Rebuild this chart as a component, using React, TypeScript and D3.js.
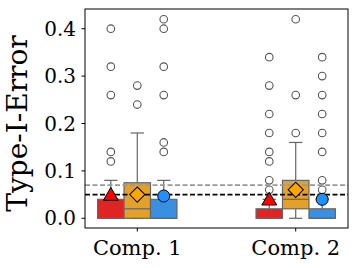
import React from 'react';
import * as d3 from 'd3';

const groups = ['Comp. 1', 'Comp. 2'];
const yTicks = [0.0, 0.1, 0.2, 0.3, 0.4];

// per series: one entry per group
const redStats = [
  { lo: 0, q1: 0, med: 0, q3: 0.04, hi: 0.08, mean: 0.045 },
  { lo: 0, q1: 0, med: 0, q3: 0.02, hi: 0.04, mean: 0.035 },
];
const redOutliers = [
  [0.12, 0.14, 0.26, 0.32, 0.4],
  [0.06, 0.08, 0.12, 0.14, 0.18, 0.22, 0.28, 0.34],
];
const orangeStats = [
  { lo: 0, q1: 0, med: 0.02, q3: 0.075, hi: 0.18, mean: 0.05 },
  { lo: 0, q1: 0.02, med: 0.04, q3: 0.08, hi: 0.16, mean: 0.06 },
];
const orangeOutliers = [
  [0.24, 0.28],
  [0.18, 0.26, 0.42],
];
const blueStats = [
  { lo: 0, q1: 0, med: 0, q3: 0.04, hi: 0.08, mean: 0.047 },
  { lo: 0, q1: 0, med: 0, q3: 0.02, hi: 0.04, mean: 0.04 },
];
const blueOutliers = [
  [0.14, 0.16, 0.26, 0.32, 0.4, 0.42],
  [0.06, 0.08, 0.14, 0.18, 0.22, 0.26, 0.3, 0.34],
];
const refLines = [
  { value: 0.07, color: '#999999' },
  { value: 0.05, color: '#000000' },
];

const series = [
  { stats: redStats, outliers: redOutliers, fill: '#e02424', marker: 'triangle', mFill: '#ff0000', offset: -1 },
  { stats: orangeStats, outliers: orangeOutliers, fill: '#e3a12a', marker: 'diamond', mFill: '#ffa500', offset: 0 },
  { stats: blueStats, outliers: blueOutliers, fill: '#3b8fe0', marker: 'circle', mFill: '#1e90ff', offset: 1 },
];

const font = '"DejaVu Serif", serif';

const App = () => {
  const Width = 358;
  const Height = 268;
  const left = 85, right = 348, top = 9, bottom = 228;

  const xScale = d3.scaleLinear().domain([-0.33, 1.33]).range([left, right]);
  const yScale = d3.scaleLinear().domain([-0.0205, 0.4416]).range([bottom, top]);
  const bw = 0.167;
  const boxW = xScale(bw) - xScale(0);

  const triangle = d3.symbol().type(d3.symbolTriangle).size(95)();
  const diamond = d3.symbol().type(d3.symbolSquare).size(115)();

  const boxes = series.map((s, si) => (
    <g key={si}>
      {s.stats.map((d, gi) => {
        const cx = xScale(gi + s.offset * bw);
        const x0 = cx - boxW / 2;
        return (
          <g key={gi}>
            <line x1={cx} x2={cx} y1={yScale(d.q3)} y2={yScale(d.hi)} stroke="#666" strokeWidth={1.2} />
            <line x1={cx} x2={cx} y1={yScale(d.q1)} y2={yScale(d.lo)} stroke="#666" strokeWidth={1.2} />
            <line x1={cx - boxW / 4} x2={cx + boxW / 4} y1={yScale(d.hi)} y2={yScale(d.hi)} stroke="#666" strokeWidth={1.2} />
            <line x1={cx - boxW / 4} x2={cx + boxW / 4} y1={yScale(d.lo)} y2={yScale(d.lo)} stroke="#666" strokeWidth={1.2} />
            <rect x={x0} y={yScale(d.q3)} width={boxW} height={yScale(d.q1) - yScale(d.q3)} fill={s.fill} stroke="#666" strokeWidth={1.2} />
            <line x1={x0} x2={x0 + boxW} y1={yScale(d.med)} y2={yScale(d.med)} stroke="#666" strokeWidth={1.2} />
            {s.outliers[gi].map((v, oi) => (
              <circle key={oi} cx={cx} cy={yScale(v)} r={3.8} fill="none" stroke="#555" strokeWidth={1.1} />
            ))}
          </g>
        );
      })}
    </g>
  ));

  const markers = series.map((s, si) => (
    <g key={si}>
      {s.stats.map((d, gi) => {
        const cx = xScale(gi + s.offset * bw);
        const cy = yScale(d.mean);
        if (s.marker === 'circle') {
          return <circle key={gi} cx={cx} cy={cy} r={6} fill={s.mFill} stroke="#000" strokeWidth={1} />;
        }
        if (s.marker === 'diamond') {
          return <path key={gi} d={diamond} transform={`translate(${cx},${cy}) rotate(45)`} fill={s.mFill} stroke="#000" strokeWidth={1} />;
        }
        return <path key={gi} d={triangle} transform={`translate(${cx},${cy - 1})`} fill={s.mFill} stroke="#000" strokeWidth={1} />;
      })}
    </g>
  ));

  return (
    <svg width={Width} height={Height} style={{ position: 'absolute', left: 0, top: 0 }}>
      <rect width={Width} height={Height} fill="#fff" />
      {boxes}
      {refLines.map((r, i) => (
        <line key={i} x1={left} x2={right} y1={yScale(r.value)} y2={yScale(r.value)} stroke={r.color} strokeWidth={1.6} strokeDasharray="5,2.5" />
      ))}
      {markers}
      <rect x={left} y={top} width={right - left} height={bottom - top} fill="none" stroke="#000" strokeWidth={1} />
      {yTicks.map((t) => (
        <g key={t} transform={`translate(${left}, ${yScale(t)})`}>
          <line x1={-3.5} x2={0} stroke="#000" strokeWidth={1} />
          <text x={-9} dy="0.36em" textAnchor="end" style={{ fontSize: '20px', fontFamily: font }}>{t.toFixed(1)}</text>
        </g>
      ))}
      {groups.map((g, i) => (
        <g key={g} transform={`translate(${xScale(i)}, ${bottom})`}>
          <line y1={0} y2={3.5} stroke="#000" strokeWidth={1} />
          <text y={27} textAnchor="middle" style={{ fontSize: '21px', fontFamily: font }}>{g}</text>
        </g>
      ))}
      <text transform={`translate(27, ${(top + bottom) / 2 + 5}) rotate(-90)`} textAnchor="middle" style={{ fontSize: '28px', fontFamily: font }}>
        Type-I-Error
      </text>
    </svg>
  );
};

export default App;
